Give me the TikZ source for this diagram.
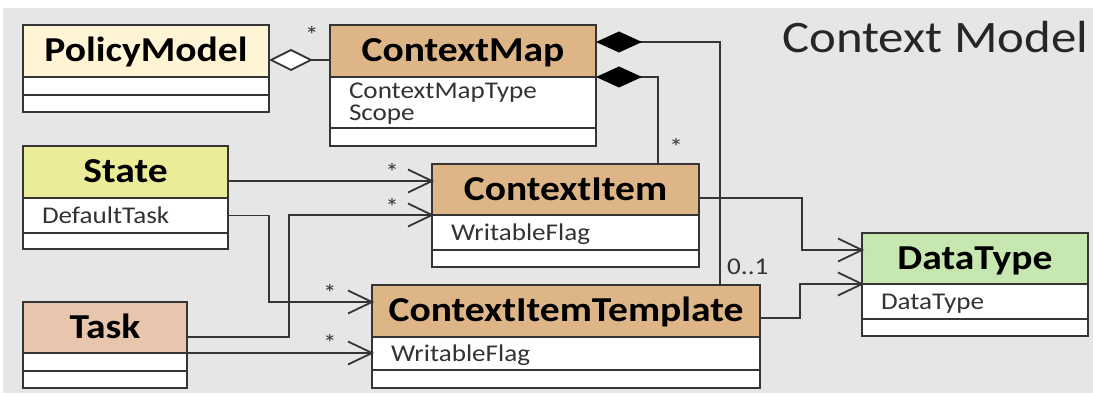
\documentclass[tikz,border=0pt]{standalone}
\usepackage{fontspec}
\setmainfont[FakeStretch=1.13]{Carlito}
\usetikzlibrary{arrows.meta,calc}
\definecolor{bg}{HTML}{E6E6E6}
\definecolor{ln}{HTML}{353535}
\definecolor{pmfill}{HTML}{FFF4D4}
\definecolor{tan}{HTML}{DDB586}
\definecolor{stfill}{HTML}{EAEC98}
\definecolor{tkfill}{HTML}{E8C5AD}
\definecolor{dtfill}{HTML}{C6E7B0}
\newcommand\hdrfont{\fontsize{35}{40}\selectfont\bfseries}
\newcommand\attrfont{\fontsize{24}{22}\selectfont}
% open "V" head for navigable associations
\pgfdeclarearrow{
  name = OpenV,
  parameters = {\the\pgfarrowlength,\the\pgfarrowwidth},
  setup code = {
    \pgfarrowssettipend{0pt}
    \pgfarrowssetlineend{-0.5\pgflinewidth}
    \pgfarrowsupperhullpoint{-\pgfarrowlength}{.5\pgfarrowwidth}
    \pgfarrowsupperhullpoint{0pt}{0pt}
    \pgfarrowssavethe\pgfarrowlength
    \pgfarrowssavethe\pgfarrowwidth
  },
  drawing code = {
    \pgfsetdash{}{0pt}
    \pgfsetmiterjoin
    \pgfpathmoveto{\pgfqpoint{-\pgfarrowlength}{.5\pgfarrowwidth}}
    \pgfpathlineto{\pgfpointorigin}
    \pgfpathlineto{\pgfqpoint{-\pgfarrowlength}{-.5\pgfarrowwidth}}
    \pgfusepathqstroke
  },
  defaults = {length=24pt, width=22pt}
}
\begin{document}
\begin{tikzpicture}[x=1pt,y=-1pt,
  hdr/.style={draw=ln, line width=2pt, anchor=north west, outer sep=0pt,
    inner sep=0pt, minimum height=52pt, font=\hdrfont, text height=22pt, text depth=0pt},
  cmp/.style={draw=ln, line width=2pt, fill=white, anchor=north west, outer sep=0pt,
    inner ysep=0pt, inner xsep=19pt, align=left, font=\attrfont, text=black!80,
    text height=16pt, text depth=0pt},
  conn/.style={draw=ln, line width=1.8pt},
  assoc/.style={conn, -{OpenV[length=24pt,width=23pt]}},
  aggr/.style={conn, {Diamond[length=44pt,width=22pt,fill=white]}-},
  comp/.style={conn, {Diamond[length=46pt,width=21pt,fill=black,color=black]}-},
  mult/.style={font=\attrfont, text=black!80, inner sep=0pt, anchor=base}]
\useasboundingbox (0,0) rectangle (1093,395);
\fill[bg] (3,8) rectangle (1093,393);

% title
\node[font=\fontsize{45}{50}\selectfont, text=black!85, inner sep=0pt, anchor=base west] (title) at (782,53) {Context Model};

% PolicyModel
\node[hdr, fill=pmfill, minimum width=246pt] (pm) at (23,25) {PolicyModel};
\node[cmp, minimum width=246pt, minimum height=18pt] (pm-a) at (pm.south west) {};
\node[cmp, minimum width=246pt, minimum height=17pt] (pm-m) at (pm-a.south west) {};

% ContextMap
\node[hdr, fill=tan, minimum width=266pt] (cm) at (330,25) {ContextMap};
\node[cmp, text width=228pt, minimum height=51pt, text height=15pt, text depth=22pt] (cm-a) at (cm.south west) {ContextMapType\\Scope};
\node[cmp, minimum width=266pt, minimum height=18pt] (cm-m) at (cm-a.south west) {};

% State
\node[hdr, fill=stfill, minimum width=205pt] (st) at (23,146) {State};
\node[cmp, text width=167pt, minimum height=35pt] (st-a) at (st.south west) {DefaultTask};
\node[cmp, minimum width=205pt, minimum height=16pt] (st-m) at (st-a.south west) {};

% ContextItem
\node[hdr, fill=tan, minimum width=267pt, minimum height=51pt] (ci) at (432,164) {ContextItem};
\node[cmp, text width=229pt, minimum height=35pt] (ci-a) at (ci.south west) {WritableFlag};
\node[cmp, minimum width=267pt, minimum height=17pt] (ci-m) at (ci-a.south west) {};

% Task
\node[hdr, fill=tkfill, minimum width=164pt, minimum height=51pt] (tk) at (23,302) {Task};
\node[cmp, minimum width=164pt, minimum height=18pt] (tk-a) at (tk.south west) {};
\node[cmp, minimum width=164pt, minimum height=17pt] (tk-m) at (tk-a.south west) {};

% ContextItemTemplate
\node[hdr, fill=tan, minimum width=388pt] (tpl) at (372,285) {ContextItemTemplate};
\node[cmp, text width=350pt, minimum height=33pt] (tpl-a) at (tpl.south west) {WritableFlag};
\node[cmp, minimum width=388pt, minimum height=18pt] (tpl-m) at (tpl-a.south west) {};

% DataType
\node[hdr, fill=dtfill, minimum width=226pt, minimum height=51pt] (dt) at (862,233) {DataType};
\node[cmp, text width=188pt, minimum height=35pt] (dt-a) at (dt.south west) {DataType};
\node[cmp, minimum width=226pt, minimum height=17pt] (dt-m) at (dt-a.south west) {};

% bend points
\coordinate (j1) at (269,302);
\coordinate (j2) at (289,215);
\coordinate (j3) at (802,250);
\coordinate (j4) at (800,284);

% connectors
\draw[aggr] ([yshift=-35pt]pm.north east) -- ([yshift=-35pt]cm.north west);
\draw[comp] ([yshift=-17pt]cm.north east) -| ([xshift=348pt]tpl.north west);
\draw[comp] (cm.south east) -| ([xshift=226pt]ci.north west);
\draw[assoc] ([yshift=-35pt]st.north east) -- ([yshift=-35pt]st.north east -| ci.west);
\draw[assoc] (st-a.east) -| (j1) -- (j1 -| tpl.west);
\draw[assoc] ([yshift=-35pt]tk.north east) -| (j2) -- (ci.south west);
\draw[assoc] (tk.south east) -- (tk.south east -| tpl.west);
\draw[assoc] ([yshift=-34pt]ci.north east) -| (j3) -- (j3 -| dt.west);
\draw[assoc] ([yshift=-33pt]tpl.north east) -| (j4) -- (dt.south west);

% multiplicities
\node[mult] (m1) at (312,44) {*};
\node[mult] (m2) at (676,156) {*};
\node[mult] (m3) at (392,181) {*};
\node[mult] (m4) at (392,216) {*};
\node[mult] (m5) at (330,302) {*};
\node[mult] (m6) at (330,352) {*};
\node[mult, anchor=base west] (m7) at (727,275) {0..1};
\end{tikzpicture}
\end{document}
